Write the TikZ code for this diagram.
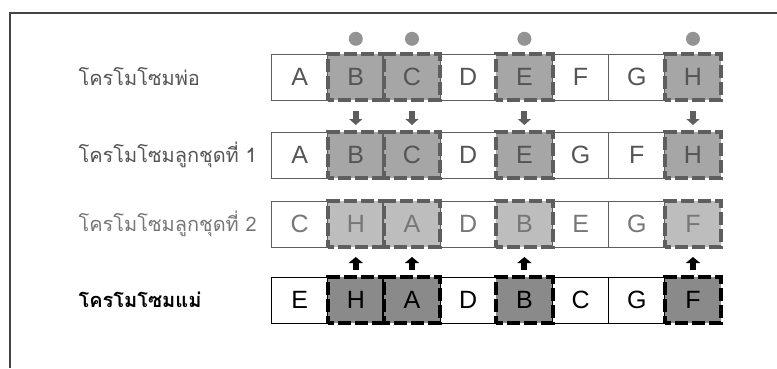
\documentclass[tikz,border=0pt]{standalone}
\usepackage{fontspec}
\setmainfont{Liberation Sans}
\newfontfamily\thaifont[Script=Thai]{Loma}
\usetikzlibrary{positioning, arrows.meta}
\definecolor{softink}{HTML}{555555}
\definecolor{softedge}{HTML}{5E5E5E}
\definecolor{softhatch}{HTML}{A6A6A6}
\definecolor{paleink}{HTML}{777777}
\definecolor{palehatch}{HTML}{BDBDBD}
\definecolor{darkhatch}{HTML}{8A8A8A}
\definecolor{framegray}{HTML}{444444}

\begin{document}
\begin{tikzpicture}[
  x=1pt, y=1pt,
  cell/.style={minimum width=56.2pt, minimum height=46pt, inner sep=0pt,
    font=\fontsize{25}{25}\selectfont},
  plain/.style={cell, draw=\edge, line width=1pt, text=\ink},
  hot/.style={cell, fill=\hatch, draw=\dash, line width=4pt,
    dash pattern=on 13pt off 4pt, dash phase=6.5pt, text=\ink},
  c1/.style=plain, c2/.style=hot, c3/.style=hot, c4/.style=plain,
  c5/.style=hot, c6/.style=plain, c7/.style=plain, c8/.style=hot,
  label/.style={anchor=west, font=\thaifont\fontsize{20}{20}\selectfont},
  gene dot/.style={circle, fill=gray!85, minimum size=14pt, inner sep=0pt},
  pass down/.style={draw=softedge, line width=6pt,
    -{Triangle[width=13pt, length=6pt]}, shorten <=9pt, shorten >=5pt},
  pass up/.style={draw=black, line width=6pt,
    -{Triangle[width=14pt, length=6pt]}, shorten <=5pt, shorten >=8pt}
]
  \useasboundingbox (0,0) rectangle (777,-368);
  \draw[framegray, line width=1.5pt] (10,-368) |- (777,-13);

  % row labels
  \node[label, text=softink] (father) at (75,-77) {โครโมโซมพ่อ};
  \node[label, text=softink] (child1) at (75,-155) {โครโมโซมลูกชุดที่ 1};
  \node[label, text=paleink] (child2) at (75,-224) {โครโมโซมลูกชุดที่ 2};
  \node[label, text=black, font=\thaifont\bfseries\fontsize{20}{20}\selectfont]
    (mother) at (75,-300) {โครโมโซมแม่};

  % chromosomes, columns 2,3,5,8 are the swapped genes
  \foreach \r/\y/\ink/\edge/\hatch/\dash/\genes in {
    1/77/softink/softedge/softhatch/softedge/{A,B,C,D,E,F,G,H},
    2/155/softink/softedge/softhatch/softedge/{A,B,C,D,E,G,F,H},
    3/224/paleink/softedge/palehatch/softedge/{C,H,A,D,B,E,G,F},
    4/300/black/black/darkhatch/black/{E,H,A,D,B,C,G,F}}
  {
    \foreach \g [count=\i] in \genes
      \node[c\i] (r\r-\i) at ({243.4+56.2*\i}, -\y) {\g};
  }

  \foreach \i in {2,3,5,8} {
    \node[gene dot, above=6pt of r1-\i] (dot\i) {};
    \draw[pass down] (r1-\i) -- (r2-\i);
    \draw[pass up] (r4-\i) -- (r3-\i);
  }
\end{tikzpicture}
\end{document}
